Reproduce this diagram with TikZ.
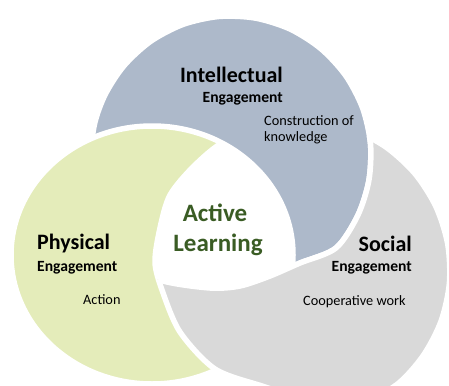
\documentclass[tikz,border=0pt]{standalone}
\usepackage{fontspec}
\setmainfont{Carlito}
\definecolor{cBlue}{HTML}{ADB9CA}
\definecolor{cGreen}{HTML}{E4ECBA}
\definecolor{cGray}{HTML}{D9D9D9}
\definecolor{cText}{HTML}{3A5C24}
\begin{document}
\begin{tikzpicture}[x=1pt,y=-1pt,
  edge/.style={draw=white,line width=5.5pt},
  head/.style={font=\fontsize{22}{24}\selectfont\bfseries,inner sep=0pt},
  sub/.style={font=\fontsize{15.6}{18}\selectfont\bfseries,inner sep=0pt},
  body/.style={font=\fontsize{14.3}{17}\selectfont,inner sep=0pt},
  center text/.style={font=\fontsize{25}{28}\selectfont\bfseries,text=cText,inner sep=0pt}]
\useasboundingbox (0,0) rectangle (449,385);
\fill[white] (0,0) rectangle (449,385);
\def\pB{plot[smooth cycle] coordinates {(93.1,131.7) (104.1,96.8) (123.8,66) (150.7,41.3) (183.1,24.4) (218.8,16.5) (255.3,18.1) (290.2,29.1) (321,48.8) (345.7,75.7) (362.6,108.1) (370.5,143.8) (368.9,180.3) (357.9,215.2) (336,248) (300,263) (270,276) (240,286) (210,288) (163,281) (128,265) (103,232) (92,185)}}
\def\pG{(152,255) ellipse [x radius=141pt, y radius=129pt]}
\def\pR{plot[smooth cycle] coordinates {(274,122.3) (313.1,120.6) (351.3,129) (386,147.1) (414.9,173.6) (435.9,206.6) (447.7,244) (449.4,283.1) (441,321.3) (422.9,356) (396.4,384.9) (360,402) (310,400) (262,386) (215,369) (180,332) (162,290) (155,262) (160,228) (170,195) (194,166) (225,141)}}
% blue (intellectual)
\fill[cBlue] \pB;
\draw[edge] \pB;
% green (physical) over blue
\fill[cGreen] \pG;
\draw[edge] \pG;
% gray (social) over green, under blue
\begin{scope}[even odd rule]
  \clip (-20,-20) rectangle (470,410) \pB;
  \fill[cGray] \pR;
  \draw[edge] \pR;
\end{scope}
\begin{scope}
  \clip \pR;
  \draw[edge] \pB;
\end{scope}
% white centre
\begin{scope}
  \clip \pB;
  \clip \pG;
  \fill[white] \pR;
  \draw[edge] \pR;
\end{scope}
% texts
\node[head,anchor=base east] (intT) at (283,82.7) {Intellectual};
\node[sub,anchor=base east] (intE) at (283,102.5) {Engagement};
\node[body,anchor=base west] (intD1) at (264,125) {Construction of};
\node[body,anchor=base west] (intD2) at (264,141) {knowledge};
\node[head,anchor=base west] (phyT) at (37,249) {Physical};
\node[sub,anchor=base west] (phyE) at (37,271) {Engagement};
\node[body,anchor=base west] (phyD) at (83,304.5) {Action};
\node[head,anchor=base east] (socT) at (412,251.5) {Social};
\node[sub,anchor=base east] (socE) at (412,271) {Engagement};
\node[body,anchor=base west] (socD) at (303,305.4) {Cooperative work};
\node[center text,anchor=base] (act1) at (215,221.7) {Active};
\node[center text,anchor=base] (act2) at (218,251.5) {Learning};
\end{tikzpicture}
\end{document}
